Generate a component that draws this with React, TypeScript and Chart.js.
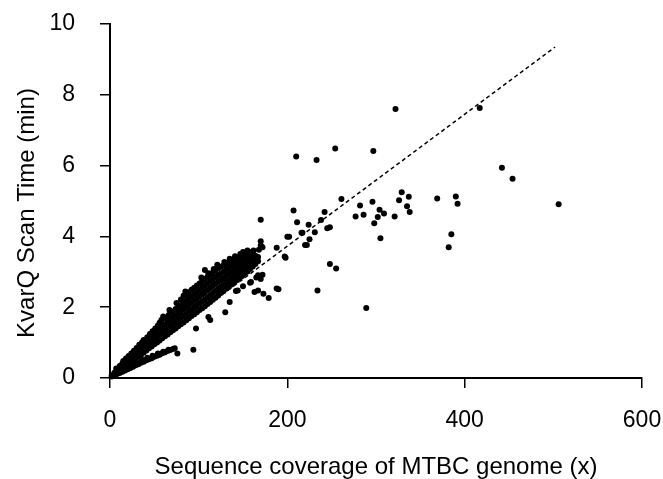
import React, { useEffect, useRef } from "react";
import { Chart, registerables } from "chart.js";

Chart.register(...registerables);

// Axis ticks
const xTicks = [0, 200, 400, 600];
const yTicks = [0, 2, 4, 6, 8, 10];

const xTitle = "Sequence coverage of MTBC genome (x)";
const yTitle = "KvarQ Scan Time (min)";

// Dense main band of runs (coverage x, scan time min)
const mainBand: [number, number][] = [
  [2, 0.04], [2, 0.08], [5, 0.09], [5, 0.15], [8, 0.14], [8, 0.22], [7, 0.27],
  [11, 0.19], [11, 0.27], [11, 0.34], [14, 0.25], [14, 0.33], [14, 0.42], [15, 0.48],
  [17, 0.31], [17, 0.4], [17, 0.49], [18, 0.55], [20, 0.37], [20, 0.46], [20, 0.56], [21, 0.62],
  [23, 0.43], [23, 0.53], [23, 0.63], [24, 0.69], [26, 0.49], [26, 0.6], [26, 0.71], [27, 0.77],
  [29, 0.55], [29, 0.66], [29, 0.78], [30, 0.85], [32, 0.6], [32, 0.72], [32, 0.84], [33, 0.94],
  [35, 0.66], [35, 0.79], [35, 0.92], [36, 1.0], [38, 0.72], [38, 0.85], [38, 0.98], [38, 1.07],
  [41, 0.78], [41, 0.92], [41, 1.05], [42, 1.15], [44, 0.84], [44, 0.98], [44, 1.12], [45, 1.24],
  [47, 0.89], [47, 1.04], [47, 1.19], [48, 1.32], [50, 0.95], [50, 1.11], [50, 1.26], [51, 1.4],
  [53, 1.0], [53, 1.17], [53, 1.33], [54, 1.48], [56, 1.06], [56, 1.23], [56, 1.4], [56, 1.56],
  [59, 1.12], [59, 1.29], [59, 1.47], [58, 1.64], [60, 1.74], [62, 1.18], [62, 1.35], [62, 1.52],
  [63, 1.69], [65, 1.23], [65, 1.4], [65, 1.58], [66, 1.77], [68, 1.29], [68, 1.46], [68, 1.64],
  [68, 1.83], [67, 1.92], [71, 1.35], [71, 1.52], [71, 1.7], [71, 1.88], [74, 1.4], [74, 1.58],
  [74, 1.76], [74, 1.95], [75, 2.12], [77, 1.46], [77, 1.64], [77, 1.82], [77, 2.0], [80, 1.52],
  [80, 1.7], [80, 1.88], [80, 2.06], [80, 2.22], [83, 1.57], [83, 1.75], [83, 1.94], [83, 2.12],
  [83, 2.32], [85, 2.44], [86, 1.63], [86, 1.81], [86, 2.0], [86, 2.18], [86, 2.36], [89, 1.69],
  [89, 1.87], [89, 2.06], [89, 2.24], [89, 2.42], [92, 1.75], [92, 1.93], [92, 2.12], [92, 2.3],
  [92, 2.49], [95, 1.8], [95, 1.99], [95, 2.18], [95, 2.36], [95, 2.55], [98, 1.86], [98, 2.05],
  [98, 2.24], [98, 2.42], [98, 2.61], [101, 1.92], [101, 2.11], [101, 2.3], [101, 2.48], [101, 2.67],
  [104, 1.97], [104, 2.16], [104, 2.36], [104, 2.55], [104, 2.74], [103, 2.84], [107, 2.03], [107, 2.22],
  [107, 2.42], [107, 2.61], [107, 2.8], [110, 2.09], [110, 2.28], [110, 2.48], [110, 2.67], [110, 2.86],
  [111, 2.96], [113, 2.15], [113, 2.34], [113, 2.54], [113, 2.73], [113, 2.92], [116, 2.21], [116, 2.4],
  [116, 2.6], [116, 2.79], [116, 2.98], [117, 3.08], [119, 2.27], [119, 2.46], [119, 2.66], [119, 2.85],
  [119, 3.04], [122, 2.33], [122, 2.52], [122, 2.72], [122, 2.9], [122, 3.1], [121, 3.2], [125, 2.4],
  [125, 2.58], [125, 2.77], [125, 2.95], [125, 3.14], [128, 2.46], [128, 2.64], [128, 2.82], [128, 3.0],
  [128, 3.18], [129, 3.28], [131, 2.52], [131, 2.7], [131, 2.88], [131, 3.05], [131, 3.22], [134, 2.58],
  [134, 2.75], [134, 2.93], [134, 3.1], [134, 3.27], [135, 3.37], [137, 2.64], [137, 2.81], [137, 2.98],
  [137, 3.15], [137, 3.31], [140, 2.7], [140, 2.87], [140, 3.03], [140, 3.19], [140, 3.35], [141, 3.44],
  [143, 2.76], [143, 2.92], [143, 3.08], [143, 3.23], [143, 3.39], [146, 2.82], [146, 2.98], [146, 3.13],
  [146, 3.27], [146, 3.42], [147, 3.5], [149, 2.88], [149, 3.03], [149, 3.18], [149, 3.32], [149, 3.46],
  [152, 2.95], [152, 3.09], [152, 3.23], [152, 3.37], [152, 3.5], [155, 3.01], [155, 3.15], [155, 3.28],
  [155, 3.41], [155, 3.55], [158, 3.08], [158, 3.21], [158, 3.34], [158, 3.45], [158, 3.56], [161, 3.15],
  [161, 3.27], [161, 3.39], [161, 3.5], [162, 3.6], [164, 3.22], [164, 3.34], [164, 3.45], [167, 3.3],
  [167, 3.42], [168, 3.62], [171, 3.7], [155, 3.6], [150, 3.56],
];

// Slower runs forming the lower strand
const lowerStrand: [number, number][] = [
  [8, 0.11], [11, 0.14], [14, 0.18], [17, 0.21], [20, 0.25], [23, 0.28], [26, 0.32], [29, 0.36],
  [32, 0.39], [35, 0.43], [38, 0.46], [41, 0.5], [44, 0.53], [47, 0.56], [50, 0.6], [53, 0.63],
  [56, 0.66], [59, 0.7], [62, 0.73], [65, 0.76], [68, 0.79], [71, 0.82], [73, 0.84],
  [30, 0.44], [36, 0.52], [42, 0.57], [48, 0.63], [54, 0.69], [60, 0.74], [66, 0.8],
  [76, 0.69], [94, 0.8],
];

// Scattered runs around and beyond the band
const scattered: [number, number][] = [
  [97, 1.4], [111, 1.72], [113, 1.64], [130, 1.86], [135, 2.15], [142, 2.46], [144, 2.47],
  [150, 2.59], [158, 2.69], [159, 2.71], [165, 2.84], [167, 2.9], [163, 2.43], [167, 2.47],
  [173, 2.38], [179, 2.26], [188, 2.53], [190, 2.51], [170, 2.8], [172, 2.92], [107, 3.05],
  [170, 3.86], [170, 4.47], [170, 3.74], [172, 3.69], [188, 3.68], [198, 3.4], [197, 3.43],
  [200, 3.99], [202, 3.99], [217, 4.1], [222, 3.76], [225, 3.92], [220, 3.76], [216, 4.1],
  [231, 4.12], [207, 4.73], [211, 4.4], [224, 4.33], [242, 4.69], [238, 4.46], [248, 4.26],
  [245, 4.23], [248, 3.22], [255, 3.09], [234, 2.47], [289, 1.98], [261, 5.06],
  [322, 7.6], [417, 7.63], [210, 6.26], [233, 6.16], [254, 6.48], [297, 6.41], [442, 5.94],
  [454, 5.63], [506, 4.91], [329, 5.25], [337, 5.12], [326, 5.02], [335, 4.85], [338, 4.69],
  [296, 4.98], [282, 4.87], [277, 4.56], [286, 4.61], [304, 4.75], [309, 4.65], [302, 4.55],
  [298, 4.37], [321, 4.56], [305, 3.95], [369, 5.07], [390, 5.13], [392, 4.92], [385, 4.06],
  [382, 3.69],
];

// Dashed reference line (endpoints)
const trendX = [0, 502];
const trendY = [0, 9.35];

const FONT = '"Liberation Sans", Arial, sans-serif';

const titlePlugin = {
  id: "axisTitlesCustom",
  afterDraw(chart: any) {
    const { ctx, chartArea } = chart;
    ctx.save();
    ctx.fillStyle = "#000";
    ctx.font = `24px ${FONT}`;
    ctx.textAlign = "center";
    ctx.textBaseline = "alphabetic";
    ctx.fillText(xTitle, (chartArea.left + chartArea.right) / 2, 474);
    ctx.translate(34, 213);
    ctx.rotate(-Math.PI / 2);
    ctx.fillText(yTitle, 0, 0);
    ctx.restore();
  },
};

const zeroPad = (s: any) => {
  s.paddingTop = 0;
  s.paddingBottom = 0;
  s.paddingLeft = 0;
  s.paddingRight = 0;
};

export default function App() {
  const ref = useRef<HTMLCanvasElement | null>(null);

  useEffect(() => {
    if (!ref.current) return;
    const toPts = (arr: [number, number][]) => arr.map(([x, y]) => ({ x, y }));
    const points = [...toPts(mainBand), ...toPts(lowerStrand), ...toPts(scattered)];
    const trend = trendX.map((x, i) => ({ x, y: trendY[i] }));

    const chart = new Chart(ref.current, {
      type: "scatter",
      data: {
        datasets: [
          {
            data: points,
            pointRadius: 3,
            pointHoverRadius: 3,
            backgroundColor: "#000",
            borderWidth: 0,
            clip: false,
          } as any,
          {
            type: "line",
            data: trend,
            borderColor: "#000",
            borderWidth: 1.5,
            borderDash: [4, 3],
            pointRadius: 0,
            fill: false,
            clip: false,
          } as any,
        ],
      },
      options: {
        animation: false,
        responsive: false,
        devicePixelRatio: 1,
        layout: { padding: { left: 0, right: 21, top: 24, bottom: 0 } },
        plugins: { legend: { display: false }, tooltip: { enabled: false } },
        scales: {
          x: {
            type: "linear",
            min: xTicks[0],
            max: xTicks[xTicks.length - 1],
            afterBuildTicks: (s: any) => {
              s.ticks = xTicks.map((v) => ({ value: v }));
            },
            afterFit: (s: any) => {
              s.height = 101;
              zeroPad(s);
            },
            ticks: {
              font: { family: FONT, size: 23 },
              color: "#000",
              padding: 19,
              maxRotation: 0,
            },
            grid: {
              drawOnChartArea: false,
              drawTicks: true,
              tickLength: 10,
              color: "#000",
              lineWidth: 1.5,
            },
            border: { display: true, color: "#000", width: 2 },
          },
          y: {
            type: "linear",
            min: yTicks[0],
            max: yTicks[yTicks.length - 1],
            afterBuildTicks: (s: any) => {
              s.ticks = yTicks.map((v) => ({ value: v }));
            },
            afterFit: (s: any) => {
              s.width = 110;
              zeroPad(s);
            },
            ticks: {
              font: { family: FONT, size: 23 },
              color: "#000",
              padding: 25,
            },
            grid: {
              drawOnChartArea: false,
              drawTicks: true,
              tickLength: 10,
              color: "#000",
              lineWidth: 1.5,
            },
            border: { display: true, color: "#000", width: 2 },
          },
        },
      },
      plugins: [titlePlugin],
    });
    return () => chart.destroy();
  }, []);

  return (
    <div style={{ position: "absolute", left: 0, top: 0, width: 663, height: 479, background: "#fff" }}>
      <canvas ref={ref} width={663} height={479} style={{ width: 663, height: 479 }} />
    </div>
  );
}
